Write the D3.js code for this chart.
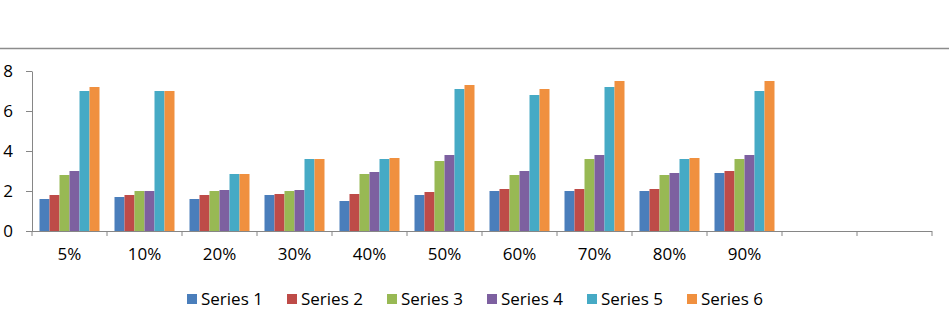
<!DOCTYPE html>
<html lang="en">
<head>
<meta charset="utf-8" />
<title>Clustered columns</title>
<script src="https://d3js.org/d3.v7.min.js"></script>
<style>
  body { margin: 0; background: #fff; }
  text { font-family: "Open Sans", sans-serif; fill: #000; }
  .axis path, .axis line { stroke: #868686; }
</style>
</head>
<body>
<script>

// data
var categories = ["5%", "10%", "20%", "30%", "40%", "50%", "60%", "70%", "80%", "90%"];
var blankSlots = 2; // two empty categories at the right end
var seriesNames = ["Series 1", "Series 2", "Series 3", "Series 4", "Series 5", "Series 6"];
var series1 = [1.6, 1.7, 1.6, 1.8, 1.5, 1.8, 2.0, 2.0, 2.0, 2.9];
var series2 = [1.8, 1.8, 1.8, 1.85, 1.85, 1.95, 2.1, 2.1, 2.1, 3.0];
var series3 = [2.8, 2.0, 2.0, 2.0, 2.85, 3.5, 2.8, 3.6, 2.8, 3.6];
var series4 = [3.0, 2.0, 2.05, 2.05, 2.95, 3.8, 3.0, 3.8, 2.9, 3.8];
var series5 = [7.0, 7.0, 2.85, 3.6, 3.6, 7.1, 6.8, 7.2, 3.6, 7.0];
var series6 = [7.2, 7.0, 2.85, 3.6, 3.65, 7.3, 7.1, 7.5, 3.65, 7.5];
var yTicks = [0, 2, 4, 6, 8];
var colors = ["#4A7EBB", "#BE4B48", "#98B954", "#7D60A0", "#46AAC5", "#F0903F"];

var allSeries = [series1, series2, series3, series4, series5, series6];

var W = 949, H = 324;
var plot = {left: 32, right: 932, top: 71, bottom: 231};

var svg = d3.select("body").append("svg")
    .attr("width", W)
    .attr("height", H);

// thin rule across the top
svg.append("line")
    .attr("x1", 0).attr("x2", W)
    .attr("y1", 48.5).attr("y2", 48.5)
    .attr("stroke", "#8c8c8c")
    .attr("stroke-width", 1.5);

// slot keys: real categories plus the empty ones
var slots = categories.slice();
for (var i = 0; i < blankSlots; i++) slots.push("_blank" + i);

var x0 = d3.scaleBand()
    .domain(slots)
    .range([plot.left, plot.right])
    .paddingInner(0.2)
    .paddingOuter(0.1);

var x1 = d3.scaleBand()
    .domain(d3.range(seriesNames.length))
    .range([0, x0.bandwidth()]);

var y = d3.scaleLinear()
    .domain([0, 8])
    .range([plot.bottom, plot.top]);

// bars
var groups = svg.append("g").selectAll("g")
    .data(categories)
    .enter().append("g")
    .attr("transform", function(d) { return "translate(" + x0(d) + ",0)"; });

groups.selectAll("rect")
    .data(function(d, ci) {
      return allSeries.map(function(s, si) { return {si: si, v: s[ci]}; });
    })
    .enter().append("rect")
    .attr("x", function(d) { return x1(d.si); })
    .attr("width", x1.bandwidth())
    .attr("y", function(d) { return y(d.v); })
    .attr("height", function(d) { return y(0) - y(d.v); })
    .attr("fill", function(d) { return colors[d.si]; });

// y axis
svg.append("g")
    .attr("class", "axis")
    .attr("transform", "translate(" + plot.left + ",0)")
    .call(d3.axisLeft(y).tickValues(yTicks).tickSize(6).tickSizeOuter(0).tickPadding(13))
    .call(function(g) { g.selectAll("text").style("font-size", "17px"); });

// x axis: labels centred in slots, ticks on slot boundaries
var xAxis = svg.append("g")
    .attr("class", "axis")
    .attr("transform", "translate(0," + plot.bottom + ")")
    .call(d3.axisBottom(x0).tickSize(0).tickSizeOuter(0).tickPadding(17)
      .tickFormat(function(d) { return d.indexOf("_blank") === 0 ? "" : d; }));
xAxis.selectAll("text").style("font-size", "17px");
xAxis.select(".domain").attr("d", "M" + plot.left + ",0.5H" + plot.right);

var bounds = d3.range(slots.length + 1).map(function(i) {
  return plot.left + i * x0.step();
});
xAxis.selectAll(".bound")
    .data(bounds)
    .enter().append("line")
    .attr("class", "bound")
    .attr("x1", function(d) { return d; })
    .attr("x2", function(d) { return d; })
    .attr("y1", 0).attr("y2", 5);

// legend
var legend = svg.append("g").attr("transform", "translate(187,294)");
var item = legend.selectAll("g")
    .data(seriesNames)
    .enter().append("g")
    .attr("transform", function(d, i) { return "translate(" + (i * 100) + ",0)"; });
item.append("rect")
    .attr("width", 10).attr("height", 10)
    .attr("fill", function(d, i) { return colors[i]; });
item.append("text")
    .attr("x", 14)
    .attr("y", 10.5)
    .style("font-size", "17px")
    .text(function(d) { return d; });

</script>
</body>
</html>
